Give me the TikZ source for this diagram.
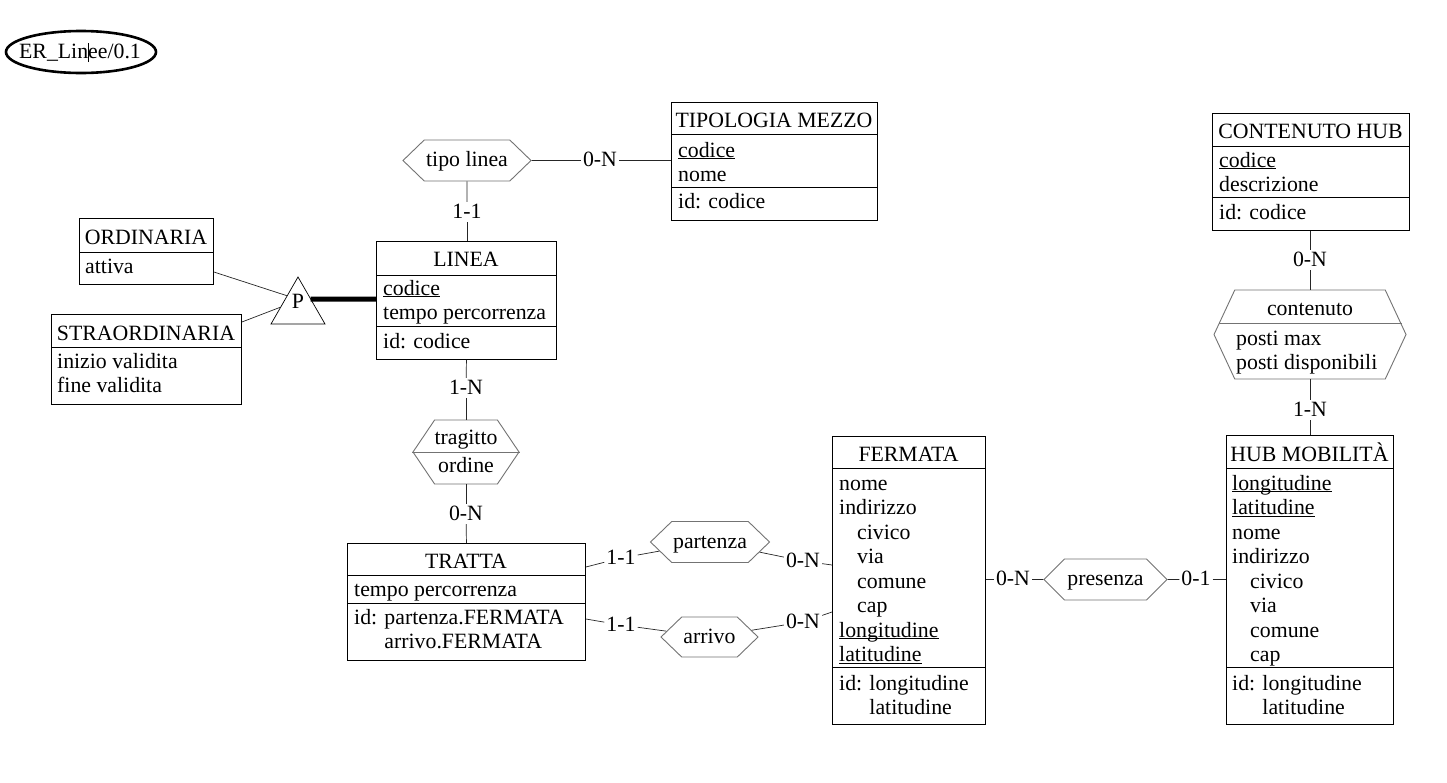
\documentclass[tikz,border=0pt]{standalone}
\usepackage{fontspec}
\setmainfont{Liberation Serif}
\usetikzlibrary{calc,shapes.symbols,shapes.geometric}
\newcommand\ulin[1]{\underline{\smash{#1}}}
\newcommand\ind{\hspace*{18pt}}
\begin{document}
\begin{tikzpicture}[x=1pt,y=-1pt,
  every node/.style={font=\fontsize{21.8}{24.5}\selectfont},
  ent/.style={draw, line width=0.9pt, inner sep=0pt, anchor=north west},
  div/.style={line width=0.9pt},
  txt/.style={anchor=base west, inner sep=0pt},
  ttl/.style={anchor=base, inner sep=0pt},
  rel/.style={draw=black!55, line width=0.9pt, signal, signal to=east and west, inner sep=0pt, text height=15pt, text depth=3pt},
  card/.style={inner sep=2pt, text height=14pt, text depth=2pt},
  conn/.style={line width=0.7pt, black!85}]
\useasboundingbox[fill=white] (0,0) rectangle (1447,782);

% tag
\draw[line width=2.6pt] (81,52) ellipse [x radius=75, y radius=21];
\node[inner sep=0pt, text height=15pt, text depth=3pt] (tag) at (80,52) {ER\_Lin\makebox[0pt]{\rule[-4pt]{0.7pt}{19pt}}ee/0.1};

% TIPOLOGIA MEZZO
\node[ent, minimum width=206pt, minimum height=118pt] (tipom) at (671,102) {};
\draw[div] ([yshift=-32pt]tipom.north west) -- ([yshift=-32pt]tipom.north east);
\draw[div] ([yshift=-85pt]tipom.north west) -- ([yshift=-85pt]tipom.north east);
\node[ttl] (tipom-t) at (774,127) {TIPOLOGIA MEZZO};
\node[txt] (tipom-a1) at (678,157) {\ulin{codice}};
\node[txt] (tipom-a2) at (678,181) {nome};
\node[txt] (tipom-id) at (678,208) {id: codice};

% LINEA
\node[ent, minimum width=180pt, minimum height=118pt] (linea) at (376,241) {};
\draw[div] ([yshift=-34pt]linea.north west) -- ([yshift=-34pt]linea.north east);
\draw[div] ([yshift=-85pt]linea.north west) -- ([yshift=-85pt]linea.north east);
\node[ttl] (linea-t) at (466,266) {LINEA};
\node[txt] (linea-a1) at (383,295) {\ulin{codice}};
\node[txt] (linea-a2) at (383,319) {tempo percorrenza};
\node[txt] (linea-id) at (383,348) {id: codice};

% ORDINARIA
\node[ent, minimum width=134pt, minimum height=66pt] (ord) at (79,218) {};
\draw[div] ([yshift=-34pt]ord.north west) -- ([yshift=-34pt]ord.north east);
\node[ttl] (ord-t) at (146,244) {ORDINARIA};
\node[txt] (ord-a1) at (85,273) {attiva};

% STRAORDINARIA
\node[ent, minimum width=190pt, minimum height=90pt] (stra) at (51,314) {};
\draw[div] ([yshift=-33pt]stra.north west) -- ([yshift=-33pt]stra.north east);
\node[ttl] (stra-t) at (146,340) {STRAORDINARIA};
\node[txt] (stra-a1) at (57,368) {inizio validita};
\node[txt] (stra-a2) at (57,392) {fine validita};

% TRATTA
\node[ent, minimum width=238pt, minimum height=117pt] (tratta) at (347,543) {};
\draw[div] ([yshift=-32pt]tratta.north west) -- ([yshift=-32pt]tratta.north east);
\draw[div] ([yshift=-60pt]tratta.north west) -- ([yshift=-60pt]tratta.north east);
\node[ttl] (tratta-t) at (466,568) {TRATTA};
\node[txt] (tratta-a1) at (354,596) {tempo percorrenza};
\node[txt] (tratta-id1) at (354,624) {id: partenza.FERMATA};
\node[txt] (tratta-id2) at (354,648) {\phantom{id: }arrivo.FERMATA};

% FERMATA
\node[ent, minimum width=153pt, minimum height=288pt] (fer) at (832,436) {};
\draw[div] ([yshift=-32pt]fer.north west) -- ([yshift=-32pt]fer.north east);
\draw[div] ([yshift=-231pt]fer.north west) -- ([yshift=-231pt]fer.north east);
\node[ttl] (fer-t) at (908.5,461) {FERMATA};
\foreach[count=\i from 0] \t in {nome,indirizzo,\ind civico,\ind via,\ind comune,\ind cap,\ulin{longitudine},\ulin{latitudine}}
  \node[txt] (fer-a\i) at (839,490+24.5*\i) {\t};
\node[txt] (fer-id1) at (839,690) {id: longitudine};
\node[txt] (fer-id2) at (839,714) {\phantom{id: }latitudine};

% HUB MOBILITA
\node[ent, minimum width=167pt, minimum height=289pt] (hub) at (1226,435) {};
\draw[div] ([yshift=-33pt]hub.north west) -- ([yshift=-33pt]hub.north east);
\draw[div] ([yshift=-232pt]hub.north west) -- ([yshift=-232pt]hub.north east);
\node[ttl] (hub-t) at (1309.5,461) {HUB MOBILITÀ};
\foreach[count=\i from 0] \t in {\ulin{longitudine},\ulin{latitudine},nome,indirizzo,\ind civico,\ind via,\ind comune,\ind cap}
  \node[txt] (hub-a\i) at (1232,490+24.5*\i) {\t};
\node[txt] (hub-id1) at (1232,690) {id: longitudine};
\node[txt] (hub-id2) at (1232,714) {\phantom{id: }latitudine};

% CONTENUTO HUB
\node[ent, minimum width=197pt, minimum height=117pt] (conthub) at (1212,113) {};
\draw[div] ([yshift=-33pt]conthub.north west) -- ([yshift=-33pt]conthub.north east);
\draw[div] ([yshift=-84pt]conthub.north west) -- ([yshift=-84pt]conthub.north east);
\node[ttl] (conthub-t) at (1310.5,138) {CONTENUTO HUB};
\node[txt] (conthub-a1) at (1219,167) {\ulin{codice}};
\node[txt] (conthub-a2) at (1219,191) {descrizione};
\node[txt] (conthub-id) at (1219,219) {id: codice};

% relationships
\node[rel, minimum width=128pt, minimum height=41pt, signal pointer angle=88] (tipo) at (467,160.5) {tipo linea};
\node[rel, minimum width=106pt, minimum height=64pt, signal pointer angle=112, text height=0pt, text depth=0pt] (trag) at (466,452) {};
\draw[draw=black!55, line width=0.9pt] (trag.west) -- (trag.east);
\node[ttl] (trag-t) at (466,444) {tragitto};
\node[ttl] (trag-a) at (466,472) {ordine};
\node[rel, minimum width=119pt, minimum height=41pt, signal pointer angle=88] (part) at (710,542) {partenza};
\node[rel, minimum width=97pt, minimum height=40pt, signal pointer angle=88] (arr) at (709.5,637) {arrivo};
\node[rel, minimum width=123pt, minimum height=41pt, signal pointer angle=90] (pres) at (1105.5,579.5) {presenza};
\node[rel, minimum width=192pt, minimum height=89pt, signal pointer angle=130, text height=0pt, text depth=0pt] (cont) at (1310,334.5) {};
\draw[draw=black!55, line width=0.9pt] ($(cont.west)+(5,-11)$) -- ($(cont.east)+(-5,-11)$);
\node[ttl] (cont-t) at (1310,315) {contenuto};
\node[txt] (cont-a1) at (1236,345) {posti max};
\node[txt] (cont-a2) at (1236,369) {posti disponibili};

% generalization
\coordinate (papex) at (298,277);
\coordinate (pbl) at (271,324);
\coordinate (pbr) at (325,324);
\draw[line width=0.7pt] (papex) -- (pbl) -- (pbr) -- cycle;
\node (plbl) at (298,301) {P};
\draw[conn] ([yshift=-54pt]ord.north east) -- ($(papex)!0.4!(pbl)$);
\draw[conn] ([yshift=-8pt]stra.north east) -- ($(papex)!0.64!(pbl)$);
\draw[line width=5pt] ($(papex)!0.47!(pbr)$) -- ([yshift=-58pt]linea.north west);

% cardinalities and connectors
\node[card] (k1) at (600,160.5) {0-N};
\draw[conn] (tipo) -- (k1);
\draw[conn] (k1) -- (tipom.west |- k1);
\node[card] (k2) at (467,212) {1-1};
\draw[conn] (tipo) -- (k2);
\draw[conn] (k2) -- (linea.north -| k2);
\node[card] (k3) at (466,388) {1-N};
\draw[conn] (linea.south) -- (k3);
\draw[conn] (k3) -- (trag);
\node[card] (k4) at (466,514) {0-N};
\draw[conn] (trag) -- (k4);
\draw[conn] (k4) -- (tratta.north);
\node[card] (k5) at (621,558) {1-1};
\draw[conn] ([yshift=-24pt]tratta.north east) -- (k5);
\draw[conn] (k5) -- (part);
\node[card] (k6) at (803,561) {0-N};
\draw[conn] (part) -- (k6);
\draw[conn] (k6) -- ([yshift=-129pt]fer.north west);
\node[card] (k7) at (621,625) {1-1};
\draw[conn] ([yshift=-76pt]tratta.north east) -- (k7);
\draw[conn] (k7) -- (arr);
\node[card] (k8) at (803,622) {0-N};
\draw[conn] (arr) -- (k8);
\draw[conn] (k8) -- ([yshift=-176pt]fer.north west);
\node[card] (k9) at (1013,579.5) {0-N};
\draw[conn] (fer.east |- k9) -- (k9);
\draw[conn] (k9) -- (pres);
\node[card] (k10) at (1196,579.5) {0-1};
\draw[conn] (pres) -- (k10);
\draw[conn] (k10) -- (hub.west |- k10);
\node[card] (k11) at (1310,260) {0-N};
\draw[conn] (conthub.south -| k11) -- (k11);
\draw[conn] (k11) -- (cont);
\node[card] (k12) at (1310,410) {1-N};
\draw[conn] (cont) -- (k12);
\draw[conn] (k12) -- (hub.north -| k12);
\end{tikzpicture}
\end{document}
